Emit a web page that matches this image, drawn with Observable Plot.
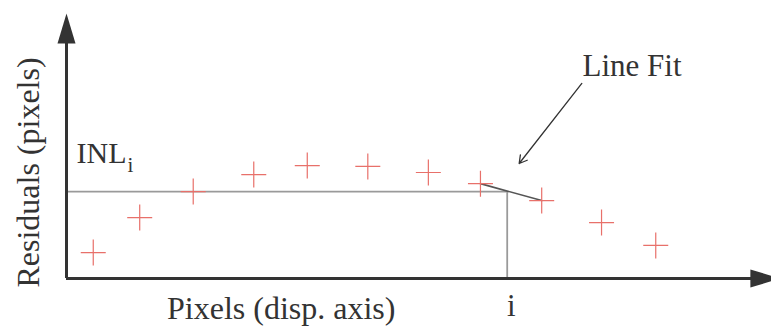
<!DOCTYPE html>
<html>
<head>
<meta charset="utf-8">
<script src="https://cdn.jsdelivr.net/npm/d3@7"></script>
<script src="https://cdn.jsdelivr.net/npm/@observablehq/plot@0.6"></script>
<style>
  html, body { margin: 0; padding: 0; background: #ffffff; }
  svg { display: block; }
</style>
</head>
<body>
<div id="chart"></div>
<script>
// Data (arbitrary units: x 0..100, y 0..10)
const pixelPos  = [3.8, 10.4, 18.0, 26.6, 34.2, 42.8, 51.4, 58.8, 67.5, 76.0, 83.7];
const residuals = [0.98, 2.30, 3.28, 3.92, 4.26, 4.23, 4.00, 3.58, 2.94, 2.11, 1.25];
const inlLevel = 3.28;
const iPos = 62.6;
const fitIdx = [7, 8];   // line fit segment between these points
const xLabel = "Pixels (disp. axis)";
const yLabel = "Residuals (pixels)";
const inlLabel = "INL";
const inlSub = "i";
const iLabel = "i";
const fitLabel = "Line Fit";

const points = pixelPos.map((x, k) => ({x, y: residuals[k]}));
const fitSeg = fitIdx.map(k => points[k]);

const plusSym = {
  draw(ctx) {
    ctx.moveTo(-12.5, 0); ctx.lineTo(12.5, 0);
    ctx.moveTo(0, -13); ctx.lineTo(0, 13);
  }
};
const headSym = {
  draw(ctx) {
    ctx.moveTo(0, 0); ctx.lineTo(-9, 30); ctx.lineTo(9, 30); ctx.closePath();
  }
};

const serif = "'Liberation Serif', 'Times New Roman', serif";
const ink = "#333333";

const chart = Plot.plot({
  width: 771,
  height: 327,
  marginLeft: 66,
  marginRight: 1,
  marginTop: 13,
  marginBottom: 49,
  style: {background: "#ffffff", overflow: "visible"},
  x: {domain: [0, 100], axis: null},
  y: {domain: [0, 10], axis: null},
  marks: [
    // INL reference lines
    Plot.ruleY([inlLevel], {x1: 0, x2: iPos, stroke: "#9a9a9a", strokeWidth: 1.8}),
    Plot.ruleX([iPos], {y1: 0, y2: inlLevel, stroke: "#9a9a9a", strokeWidth: 1.8}),
    // Line fit segment
    Plot.line(fitSeg, {x: "x", y: "y", stroke: "#555555", strokeWidth: 1.6}),
    // Residual points
    Plot.dot(points, {x: "x", y: "y", symbol: plusSym, r: 10, fill: "none", stroke: "#e8706a", strokeWidth: 1.2}),
    // Axes
    Plot.ruleX([0], {y1: 0, y2: 9.3, stroke: ink, strokeWidth: 3}),
    Plot.ruleY([0], {x1: 0, x2: 98, stroke: ink, strokeWidth: 3}),
    Plot.dot([{x: 0, y: 10}], {x: "x", y: "y", symbol: headSym, r: 10, fill: ink, stroke: "none", rotate: 0}),
    Plot.dot([{x: 101.4, y: 0}], {x: "x", y: "y", symbol: headSym, r: 10, fill: ink, stroke: "none", rotate: 90}),
    // Annotation arrow
    Plot.arrow([{x1: 73.2, y1: 7.36, x2: 64.3, y2: 4.34}], {x1: "x1", y1: "y1", x2: "x2", y2: "y2", stroke: ink, strokeWidth: 1.3, headLength: 10, insetEnd: 0, insetStart: 0}),
    // Texts
    Plot.text([fitLabel], {x: 73.3, y: 7.66, text: d => d, textAnchor: "start", lineAnchor: "bottom", fontFamily: serif, fontSize: 31, fill: ink}),
    Plot.text([inlLabel], {x: 1.42, y: 4.34, text: d => d, textAnchor: "start", lineAnchor: "bottom", fontFamily: serif, fontSize: 30, fill: ink}),
    Plot.text([inlSub], {x: 8.66, y: 4.02, text: d => d, textAnchor: "start", lineAnchor: "bottom", fontFamily: serif, fontSize: 21, fill: ink}),
    Plot.text([xLabel], {x: 30.5, y: -1.51, text: d => d, textAnchor: "middle", lineAnchor: "bottom", fontFamily: serif, fontSize: 32, fill: ink}),
    Plot.text([iLabel], {x: 63.2, y: -1.40, text: d => d, textAnchor: "middle", lineAnchor: "bottom", fontFamily: serif, fontSize: 31, fill: ink}),
    Plot.text([yLabel], {x: -5.3, y: 4.0, text: d => d, rotate: -90, textAnchor: "middle", lineAnchor: "middle", fontFamily: serif, fontSize: 32, fill: ink})
  ]
});
document.getElementById("chart").appendChild(chart);
</script>
</body>
</html>
